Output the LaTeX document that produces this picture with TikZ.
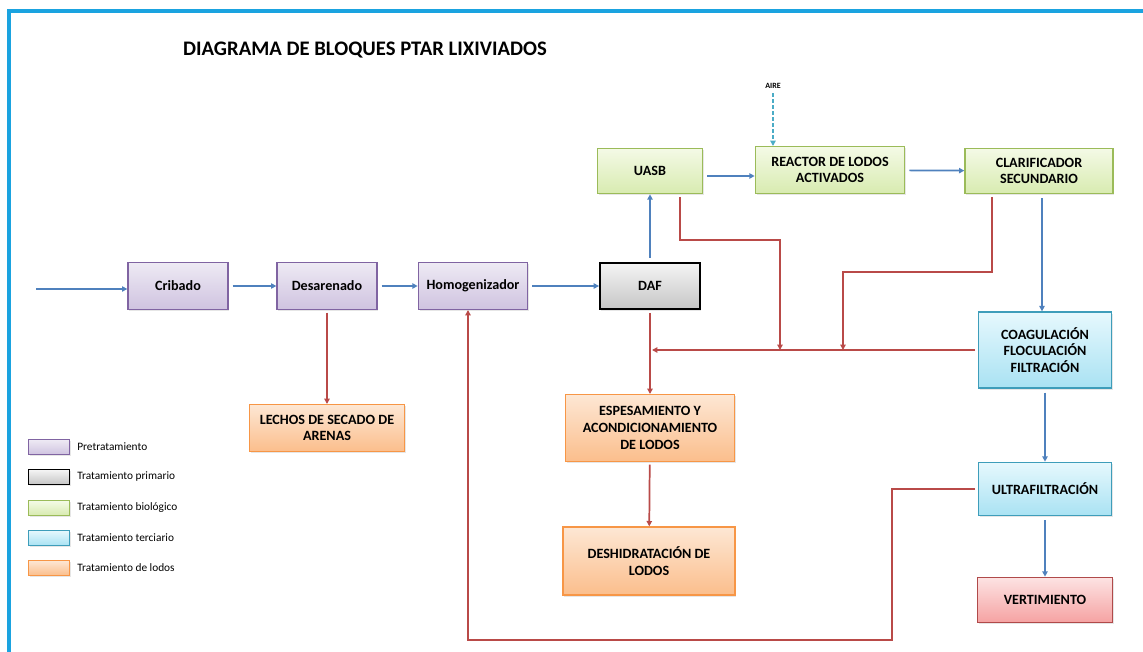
\documentclass[tikz,border=0pt]{standalone}
\usepackage{fontspec}
\setmainfont{Carlito}
\usepackage{xcolor}
\usepackage{tikz}
\usetikzlibrary{arrows.meta,shadows}

\definecolor{flowblue}{HTML}{4F81BD}
\definecolor{sludgered}{HTML}{B94A48}
\definecolor{framecol}{HTML}{1AA3E0}
\definecolor{airecol}{HTML}{4BACC6}
\definecolor{purpdraw}{HTML}{8064A2}
\definecolor{purptop}{HTML}{EEEAF4}
\definecolor{purpbot}{HTML}{CFC3E0}
\definecolor{greendraw}{HTML}{9BBB59}
\definecolor{greentop}{HTML}{F4FAE6}
\definecolor{greenbot}{HTML}{D8EBB0}
\definecolor{cyandraw}{HTML}{3E9DBA}
\definecolor{cyantop}{HTML}{E6F8FD}
\definecolor{cyanbot}{HTML}{A9E2F3}
\definecolor{orandraw}{HTML}{F79646}
\definecolor{orantop}{HTML}{FDE7D4}
\definecolor{oranbot}{HTML}{FBBE8C}
\definecolor{reddraw}{HTML}{B04A4A}
\definecolor{redtop}{HTML}{FDE3E3}
\definecolor{redbot}{HTML}{F5A2A2}

\begin{document}
\begin{tikzpicture}[x=0.75pt,y=-0.75pt,
  box/.style={draw,line width=1pt,align=center,inner sep=2pt,
    drop shadow={opacity=0.2,shadow xshift=1pt,shadow yshift=-1.2pt},
    font=\bfseries\fontsize{10.6}{12.5}\selectfont},
  pretrat/.style={box,draw=purpdraw,top color=purptop,bottom color=purpbot},
  primario/.style={box,draw=black,line width=1.4pt,top color=gray!8,bottom color=gray!45},
  biologico/.style={box,draw=greendraw,top color=greentop,bottom color=greenbot},
  terciario/.style={box,draw=cyandraw,top color=cyantop,bottom color=cyanbot},
  lodos/.style={box,draw=orandraw,top color=orantop,bottom color=oranbot},
  vertido/.style={box,draw=reddraw,top color=redtop,bottom color=redbot},
  legbox/.style={minimum width=31pt,minimum height=11pt,inner sep=0pt,line width=0.9pt},
  flow/.style={flowblue,line width=1.3pt,-{Triangle[length=4pt,width=4pt]},shorten <=3pt},
  sludge/.style={sludgered,line width=1.3pt,-{Triangle[length=4pt,width=4pt]},shorten <=2pt},
]
\useasboundingbox (0,0) rectangle (1143,652);
\draw[framecol,line width=3pt] (9,652) -- (9,11) -- (1143,11);

\node[font=\bfseries\fontsize{15.5}{18}\selectfont] (title) at (365,50) {DIAGRAMA DE BLOQUES PTAR LIXIVIADOS};

% linea principal
\node[pretrat,minimum width=75pt,minimum height=35pt] (crib) at (178,286) {Cribado};
\node[pretrat,minimum width=75pt,minimum height=35pt] (desa) at (327,286) {Desarenado};
\node[pretrat,minimum width=82pt,minimum height=35pt] (homo) at (473,286) {Homogenizador};
\node[primario,minimum width=75pt,minimum height=35pt] (daf) at (650,286) {DAF};

% biologico
\node[biologico,minimum width=79pt,minimum height=34pt] (uasb) at (650,171) {UASB};
\node[biologico,minimum width=112pt,minimum height=35pt] (reac) at (830,170) {REACTOR DE LODOS\\ACTIVADOS};
\node[biologico,minimum width=111pt,minimum height=34pt] (clar) at (1039,171) {CLARIFICADOR\\SECUNDARIO};
\node[font=\bfseries\fontsize{6}{7}\selectfont] (aire) at (773,86) {AIRE};

% terciario
\node[terciario,minimum width=100pt,minimum height=57pt] (coag) at (1045,350) {COAGULACIÓN\\FLOCULACIÓN\\FILTRACIÓN};
\node[terciario,minimum width=100pt,minimum height=40pt] (ultra) at (1045,489) {ULTRAFILTRACIÓN};
\node[vertido,minimum width=101pt,minimum height=34pt] (vert) at (1045,600) {VERTIMIENTO};

% lodos
\node[lodos,minimum width=116pt,minimum height=35pt] (lech) at (327,428) {LECHOS DE SECADO DE\\ARENAS};
\node[lodos,minimum width=127pt,minimum height=50pt] (espe) at (650,428) {ESPESAMIENTO Y\\ACONDICIONAMIENTO\\DE LODOS};
\node[lodos,minimum width=129pt,minimum height=51pt] (desh) at (649,561) {DESHIDRATACIÓN DE\\LODOS};

% leyenda
\foreach \y/\sty/\txt [count=\i] in {447/pretrat/Pretratamiento,477/primario/Tratamiento primario,
    508/biologico/Tratamiento biológico,538/terciario/Tratamiento terciario,568/lodos/Tratamiento de lodos} {
  \node[\sty,legbox] (leg\i) at (49,\y) {};
  \node[anchor=west,font=\fontsize{8.5}{10}\selectfont,inner sep=0pt] (legtxt\i) at (77,\y) {\txt};
}

\coordinate (in) at (32,289);
\coordinate (j0) at (652,350);
\coordinate (j1) at (780,350);
\coordinate (j2) at (843,350);

% agua
\draw[flow] (in) -- (crib.west |- in);
\draw[flow] (crib) -- (desa);
\draw[flow] (desa) -- (homo);
\draw[flow] (homo) -- (daf);
\draw[flow] (daf) -- (uasb);
\draw[flow] (uasb.east |- 0,176) -- (reac.west |- 0,176);
\draw[flow] (reac) -- (clar);
\draw[flow] (clar.south -| 1042,0) -- (coag.north -| 1042,0);
\draw[flow] (coag) -- (ultra);
\draw[flow] (ultra) -- (vert);
\draw[airecol,line width=1.6pt,dashed,dash pattern=on 3pt off 1.5pt,-{Triangle[length=4pt,width=4pt]}] (aire.south) -- (aire.south |- reac.north);

% lodos
\draw[sludge] (desa) -- (lech);
\draw[sludge] (daf) -- (espe);
\draw[sludge] (espe) -- (desh);
\draw[sludge] (uasb.south -| 680,0) |- (780,240) -- (j1);
\draw[sludge] (clar.south -| 992,0) |- (843,272) -- (j2);
\draw[sludge] (coag.west) -- (j0);
\draw[sludge] (ultra.west) -| (892,640) -| (homo.south -| 468,0);
\end{tikzpicture}
\end{document}
